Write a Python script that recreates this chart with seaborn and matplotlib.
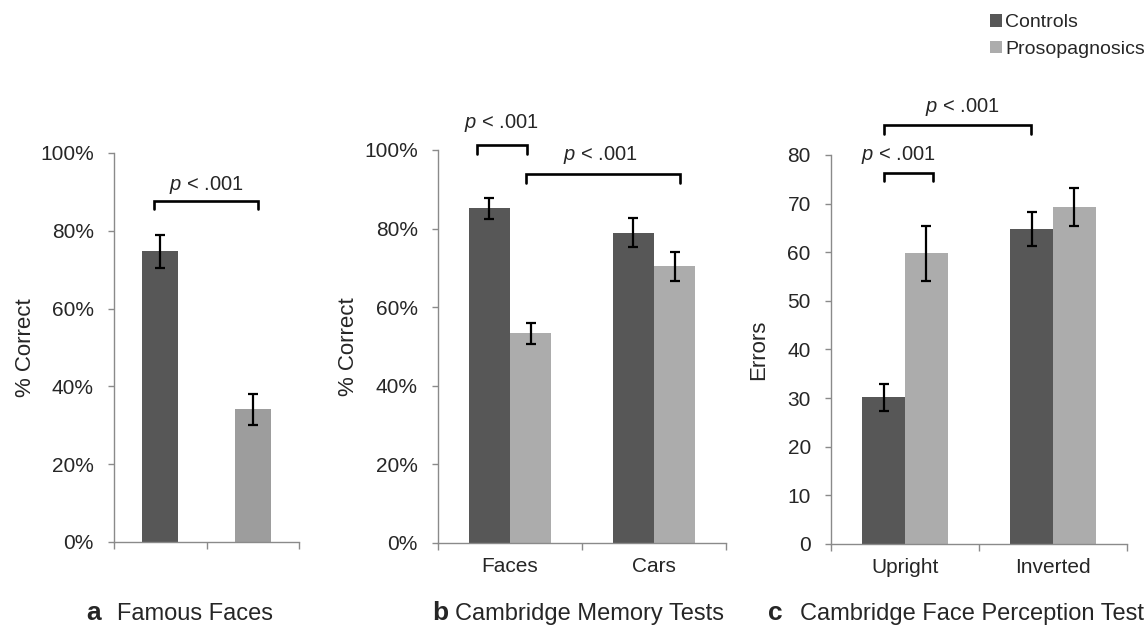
import pandas as pd
import matplotlib
matplotlib.use("Agg")
import matplotlib.pyplot as plt
import seaborn as sns

# values
groups = ["Controls", "Prosopagnosics"]

famous_mean = [74.7, 34.1]
famous_err = [4.3, 3.95]

cmt_tests = ["Faces", "Cars"]
cmt_controls = [85.2, 79.0]
cmt_prosop = [53.4, 70.4]
cmt_controls_err = [2.7, 3.7]
cmt_prosop_err = [2.65, 3.65]

cfpt_orient = ["Upright", "Inverted"]
cfpt_controls = [30.2, 64.8]
cfpt_prosop = [59.75, 69.3]
cfpt_controls_err = [2.75, 3.45]
cfpt_prosop_err = [5.6, 3.85]

pct_ticks = [0, 20, 40, 60, 80, 100]
err_ticks = [0, 10, 20, 30, 40, 50, 60, 70, 80]

DARK = "#575757"
LIGHT_A = "#9d9d9d"
LIGHT = "#acacac"
AXIS_GREY = "#8a8a8a"

sns.set_style("white")
plt.rcParams["font.family"] = ["Liberation Sans", "DejaVu Sans"]
plt.rcParams["mathtext.fontset"] = "custom"
plt.rcParams["mathtext.it"] = "Liberation Sans:italic"
plt.rcParams["mathtext.rm"] = "Liberation Sans"


def style_axis(ax, ticks, fmt, xmax):
    """Excel-like axes: grey left/bottom spines, ticks between categories."""
    for side in ["top", "right"]:
        ax.spines[side].set_visible(False)
    for side in ["left", "bottom"]:
        ax.spines[side].set_color(AXIS_GREY)
        ax.spines[side].set_linewidth(1)
    ax.set_xlim(-0.5, xmax)
    ax.set_ylim(ticks[0], ticks[-1])
    ax.set_yticks(ticks)
    ax.set_yticklabels([fmt.format(t) for t in ticks])
    ax.tick_params(axis="y", direction="out", length=4.5, width=1,
                   color=AXIS_GREY, labelsize=15, pad=10, left=True)
    ax.tick_params(axis="x", which="major", length=0, labelsize=15, pad=10)
    ax.set_xticks([-0.5, 0.5, 1.5], minor=True)
    ax.tick_params(axis="x", which="minor", direction="out", length=5,
                   width=1, color=AXIS_GREY, bottom=True)
    ax.set_xlabel("")


def add_errors(ax, errs):
    bars = [b for c in ax.containers for b in c]
    bars.sort(key=lambda b: b.get_x())
    xs = [b.get_x() + b.get_width() / 2 for b in bars]
    ys = [b.get_height() for b in bars]
    ax.errorbar(xs, ys, yerr=errs, fmt="none", ecolor="black",
                elinewidth=1.6, capsize=3.6, capthick=1.6, zorder=5)


def bracket(ax, x0, x1, y, drop, ytext, xtext):
    ax.plot([x0, x0, x1, x1], [y - drop, y, y, y - drop], color="black",
            lw=1.9, clip_on=False, solid_joinstyle="miter")
    ax.text(xtext, ytext, r"$p$ < .001", ha="center", va="center",
            fontsize=14.5, clip_on=False)


fig = plt.figure(figsize=(11.46, 6.26), dpi=100)

# a  Famous Faces
ax_a = fig.add_axes([0.0995, 0.1342, 0.1614, 0.6214])
df_a = pd.DataFrame({"group": groups, "value": famous_mean})
sns.barplot(data=df_a, x="group", y="value", hue="group", order=groups,
            hue_order=groups, palette={groups[0]: DARK, groups[1]: LIGHT_A},
            width=0.39, legend=False, ax=ax_a, linewidth=0)
add_errors(ax_a, famous_err)
style_axis(ax_a, pct_ticks, "{}%", 1.37)
ax_a.set_xticks([0, 1])
ax_a.set_xticklabels(["", ""])
ax_a.set_ylabel("% Correct", fontsize=16)
ax_a.yaxis.set_label_coords(-0.42, 0.5)
bracket(ax_a, -0.069, 1.053, 87.7, 2.1, 91.8, 0.5)

# b  Cambridge Memory Tests
ax_b = fig.add_axes([0.3822, 0.1326, 0.2513, 0.6278])
df_b = pd.DataFrame({
    "test": cmt_tests * 2,
    "group": [groups[0]] * 2 + [groups[1]] * 2,
    "value": cmt_controls + cmt_prosop,
})
sns.barplot(data=df_b, x="test", y="value", hue="group", order=cmt_tests,
            hue_order=groups, palette=[DARK, LIGHT], width=0.57,
            legend=False, ax=ax_b, linewidth=0)
add_errors(ax_b, [cmt_controls_err[0], cmt_prosop_err[0],
                  cmt_controls_err[1], cmt_prosop_err[1]])
style_axis(ax_b, pct_ticks, "{}%", 1.395)
ax_b.set_ylabel("% Correct", fontsize=16)
ax_b.yaxis.set_label_coords(-0.274, 0.5)
bracket(ax_b, -0.23, 0.116, 101.3, 2.2, 106.9, -0.06)
bracket(ax_b, 0.112, 1.18, 94.0, 2.4, 98.7, 0.625)

# c  Cambridge Face Perception Test
ax_c = fig.add_axes([0.7251, 0.1310, 0.2583, 0.6214])
df_c = pd.DataFrame({
    "orient": cfpt_orient * 2,
    "group": [groups[0]] * 2 + [groups[1]] * 2,
    "value": cfpt_controls + cfpt_prosop,
})
sns.barplot(data=df_c, x="orient", y="value", hue="group", order=cfpt_orient,
            hue_order=groups, palette=[DARK, LIGHT], width=0.575,
            ax=ax_c, linewidth=0)
add_errors(ax_c, [cfpt_controls_err[0], cfpt_prosop_err[0],
                  cfpt_controls_err[1], cfpt_prosop_err[1]])
style_axis(ax_c, err_ticks, "{}", 1.397)
ax_c.set_ylabel("Errors", fontsize=16)
ax_c.yaxis.set_label_coords(-0.209, 0.5)
bracket(ax_c, -0.143, 0.192, 76.3, 1.65, 80.0, -0.045)
bracket(ax_c, -0.143, 0.85, 86.1, 1.75, 89.9, 0.388)

# legend in the top right corner of the figure
handles, labels = ax_c.get_legend_handles_labels()
ax_c.get_legend().remove()
fig.legend(handles, labels, loc="upper left",
           bbox_to_anchor=(990 / 1146, 1 - 14 / 626), frameon=False,
           fontsize=14, handlelength=0.62, handleheight=0.62,
           handletextpad=0.15, labelspacing=0.5, borderpad=0,
           borderaxespad=0)

# panel captions under the axes
caps = [(86, 117, "a", "Famous Faces"),
        (432, 455, "b", "Cambridge Memory Tests"),
        (768, 800, "c", "Cambridge Face Perception Test")]
for xl, xt, letter, title in caps:
    fig.text(xl / 1146, 1 - 620 / 626, letter, fontsize=19,
             fontweight="bold", ha="left", va="baseline")
    fig.text(xt / 1146, 1 - 620 / 626, title, fontsize=17,
             ha="left", va="baseline")

fig.savefig("out.png", dpi=100)
